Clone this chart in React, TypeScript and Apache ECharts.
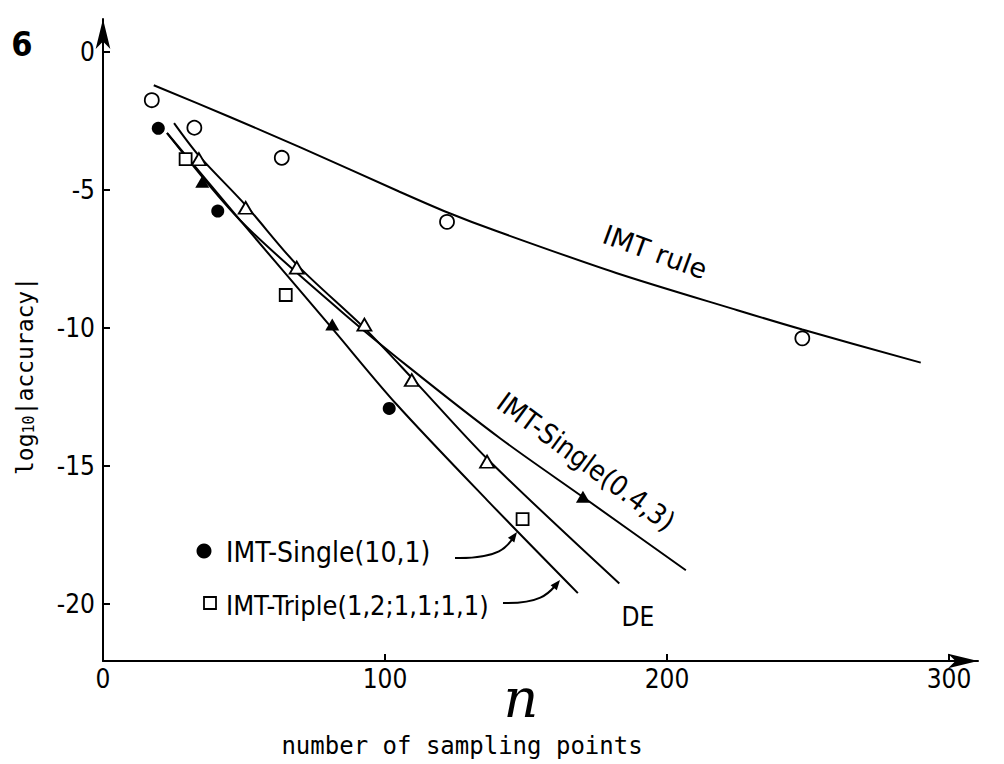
import { useEffect, useRef } from "react";
import * as echarts from "echarts";

// ---- data ----
const xTickValues = [100, 200, 300];
const xLabelValues = [0, 100, 200, 300];
const yTickValues = [0, -5, -10, -15, -20];

// IMT rule (open circles) and its fitted curve
const imtRuleCurve = [[18, -1.2], [45, -2.35], [70, -3.45], [105, -5.05], [122, -5.8], [140, -6.5], [182, -8.0], [225, -9.35], [248, -10.05], [290, -11.25]];
const imtRulePoints = [[17.3, -1.74], [32.4, -2.74], [63.4, -3.83], [122, -6.15], [248, -10.37]];

// IMT-Single(10,1) / IMT-Triple curve
const single10Curve = [[22.7, -2.93], [48.6, -6.09], [81.2, -10.0], [104, -12.75], [136.2, -16.23], [168.4, -19.6]];
const single10Points = [[19.6, -2.76], [40.7, -5.76], [101.5, -12.91]];
const triplePoints = [[29.3, -3.88], [64.8, -8.8], [148.8, -16.92]];

// DE curve (open triangles)
const deCurve = [[25.2, -2.57], [34, -3.75], [50.6, -5.55], [68.7, -7.7], [92.7, -10.0], [109.5, -11.8], [136.4, -14.75], [183.1, -19.25]];
const dePoints = [[34.0, -3.88], [50.6, -5.64], [68.7, -7.81], [92.7, -9.87], [109.5, -11.88], [136.2, -14.84]];

// IMT-Single(0.4,3) curve (filled triangles)
const single043Curve = [[22.7, -2.93], [48.6, -6.09], [84, -9.35], [108.9, -11.45], [140.8, -13.99], [170.2, -16.12], [206.7, -18.77]];
const single043Points = [[35.2, -4.7], [81.3, -9.87], [170.2, -16.11]];

const F = "'DejaVu Sans Condensed', 'Liberation Sans Narrow', 'DejaVu Sans', sans-serif";
const FS = "'DejaVu Sans', sans-serif";
const FM = "'DejaVu Sans Mono', monospace";

export default function App() {
  const ref = useRef<HTMLDivElement>(null);
  useEffect(() => {
    if (!ref.current) return;
    const chart = echarts.init(ref.current, undefined, { renderer: "svg" });
    const lineBase = { type: "line", smooth: 0.3, showSymbol: false, lineStyle: { color: "#000", width: 2 }, z: 2, silent: true };
    const txt = (x: number, y: number, text: string, size: number, extra: any = {}, rot = 0) => ({
      type: "text", x, y, rotation: rot, z: 10,
      style: { text, fill: "#000", fontSize: size, fontFamily: F, textAlign: "center", textVerticalAlign: "middle", ...extra },
    });
    const openStyle = { color: "#fff", borderColor: "#000", borderWidth: 1.8, opacity: 1 };
    const filledStyle = { color: "#000", opacity: 1 };
    const option: any = {
      animation: false,
      backgroundColor: "#fff",
      grid: { left: 103, top: 19, width: 875, height: 642, containLabel: false },
      xAxis: {
        type: "value", min: 0, max: 310.3,
        axisLine: { show: true, onZero: false, lineStyle: { color: "#000", width: 2 }, symbol: ["none", "arrow"], symbolSize: [11, 30] },
        axisTick: { show: true, inside: true, length: 7, customValues: xTickValues, lineStyle: { color: "#000", width: 2 } },
        axisLabel: { customValues: xLabelValues, fontSize: 26, color: "#000", fontFamily: F, margin: 5 },
        splitLine: { show: false },
      },
      yAxis: {
        type: "value", min: -22.06, max: 1.2,
        axisLine: { show: true, onZero: false, lineStyle: { color: "#000", width: 2 }, symbol: ["none", "arrow"], symbolSize: [11, 30] },
        axisTick: { show: true, inside: true, length: 7, customValues: yTickValues, lineStyle: { color: "#000", width: 2 } },
        axisLabel: { customValues: yTickValues, fontSize: 26, color: "#000", fontFamily: F, margin: 8 },
        splitLine: { show: false },
      },
      series: [
        { ...lineBase, name: "IMT rule", data: imtRuleCurve },
        { ...lineBase, name: "IMT-Single(10,1)", data: single10Curve },
        { ...lineBase, name: "DE", data: deCurve },
        { ...lineBase, name: "IMT-Single(0.4,3)", data: single043Curve },
        { type: "scatter", name: "IMT rule pts", data: imtRulePoints, symbol: "circle", symbolSize: 14, itemStyle: openStyle, z: 5 },
        { type: "scatter", name: "Single(10,1) pts", data: single10Points, symbol: "circle", symbolSize: 13, itemStyle: filledStyle, z: 5 },
        { type: "scatter", name: "Triple pts", data: triplePoints, symbol: "rect", symbolSize: 12, itemStyle: openStyle, z: 5 },
        { type: "scatter", name: "DE pts", data: dePoints, symbol: "triangle", symbolSize: [14, 12], itemStyle: openStyle, z: 5 },
        { type: "scatter", name: "Single(0.4,3) pts", data: single043Points, symbol: "triangle", symbolSize: [14, 12], itemStyle: filledStyle, z: 5 },
      ],
      graphic: [
        txt(22, 44, "6", 34, { fontWeight: "bold" }),
        {
          type: "text", x: 25, y: 376, rotation: Math.PI / 2, z: 10,
          style: {
            text: "log{s|10}|accuracy|", fill: "#000", fontSize: 23, fontFamily: FM,
            textAlign: "center", textVerticalAlign: "middle",
            rich: { s: { fontSize: 15, fontFamily: FM, verticalAlign: "bottom", fill: "#000" } },
          },
        },
        { type: "circle", shape: { cx: 204, cy: 551, r: 7.5 }, style: { fill: "#000" }, z: 10 },
        txt(226, 552, "IMT-Single(10,1)", 28, { textAlign: "left" }),
        { type: "rect", shape: { x: 204, y: 597, width: 12, height: 12 }, style: { fill: "#fff", stroke: "#000", lineWidth: 1.8 }, z: 10 },
        txt(226, 605, "IMT-Triple(1,2;1,1;1,1)", 27, { textAlign: "left" }),
        { type: "bezierCurve", shape: { x1: 455, y1: 558, cpx1: 500, cpy1: 559, cpx2: 508, cpy2: 546, x2: 513, y2: 538 }, style: { stroke: "#000", lineWidth: 2, fill: null }, z: 10 },
        { type: "polygon", shape: { points: [[517, 532], [514.3, 542.5], [507.9, 537.7]] }, style: { fill: "#000" }, z: 10 },
        { type: "bezierCurve", shape: { x1: 503, y1: 603, cpx1: 540, cpy1: 604, cpx2: 549, cpy2: 593, x2: 555, y2: 586 }, style: { stroke: "#000", lineWidth: 2, fill: null }, z: 10 },
        { type: "polygon", shape: { points: [[560, 580], [556.8, 590.2], [550.6, 585.2]] }, style: { fill: "#000" }, z: 10 },
        txt(655, 252, "IMT rule", 27, { fontFamily: FS }, -0.35),
        txt(586, 462, "IMT-Single(0.4,3)", 28, {}, -0.634),
        txt(638, 617, "DE", 26),
        { type: "text", x: 521, y: 698, z: 10, style: { text: "n", fill: "#000", fontSize: 54, fontStyle: "italic", fontFamily: "'DejaVu Serif', serif", textAlign: "center", textVerticalAlign: "middle" } },
        txt(462, 746, "number of sampling points", 24, { fontFamily: FM }),
      ],
    };
    chart.setOption(option);
    return () => chart.dispose();
  }, []);
  return <div ref={ref} style={{ position: "absolute", left: 0, top: 0, width: 1004, height: 764, background: "#fff" }} />;
}
